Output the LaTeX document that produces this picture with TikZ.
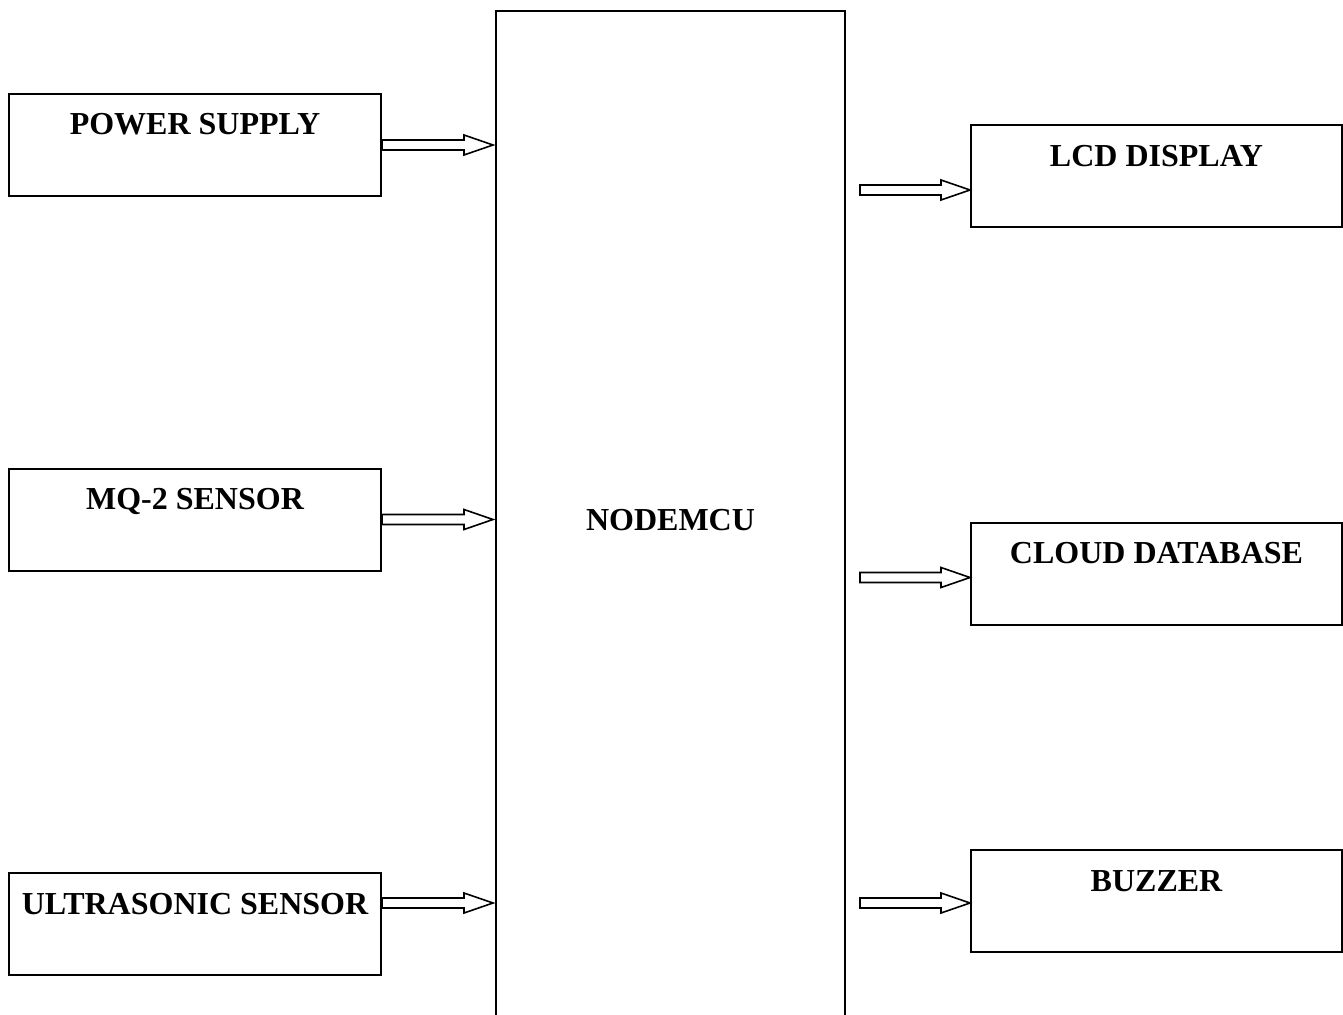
\documentclass[tikz,border=0pt]{standalone}
\usepackage{fontspec}
\setmainfont{Liberation Serif}
\usepackage{tikz}
\usetikzlibrary{calc,positioning}
\tikzset{
  box/.style={draw,line width=2pt,minimum width=372pt,inner ysep=0pt,text height=41pt,text depth=61pt,font=\fontsize{32}{36}\selectfont\bfseries},
  mcu/.style={draw,line width=2pt,minimum width=349pt,minimum height=1018pt,font=\fontsize{32}{36}\selectfont\bfseries},
  hollow/.style={draw,line width=1.6pt,fill=white,line join=miter}
}
% hollow block arrow between two points on one level
\newcommand\hollowarrow[2]{%
  \path[hollow] let \p1=(#1), \p2=(#2) in
    (\x1,\y1+5pt) -- (\x2-29pt,\y1+5pt) -- (\x2-29pt,\y1+10pt) -- (\x2,\y1)
    -- (\x2-29pt,\y1-10pt) -- (\x2-29pt,\y1-5pt) -- (\x1,\y1-5pt) -- cycle;}

\begin{document}
\begin{tikzpicture}[x=1pt,y=-1pt]
  \useasboundingbox (0,0) rectangle (1343,1014);
  \node[mcu] (node) at (670.5,520) {NODEMCU};
  \node[box] (power) at (195,145) {POWER SUPPLY};
  \node[box] (mq) at (195,519.5) {MQ-2 SENSOR};
  \node[box] (ultra) at (195,924) {ULTRASONIC SENSOR};
  \node[box,minimum width=371pt] (lcd) at (1156.5,176) {LCD DISPLAY};
  \node[box,minimum width=371pt] (cloud) at (1156.5,573.5) {CLOUD DATABASE};
  \node[box,minimum width=371pt] (buzzer) at (1156.5,901) {BUZZER};
  \coordinate (ultraout) at ([yshift=21pt]ultra.east);
  \coordinate (lcdin) at ([yshift=-14pt]lcd.west);
  \coordinate (cloudin) at ([yshift=-4pt]cloud.west);
  \coordinate (buzzerin) at ([yshift=-2pt]buzzer.west);
  \hollowarrow{power.east}{$(power.east -| node.west)+(-2,0)$}
  \hollowarrow{mq.east}{$(mq.east -| node.west)+(-2,0)$}
  \hollowarrow{ultraout}{$(ultraout -| node.west)+(-2,0)$}
  \hollowarrow{$(node.east |- lcdin)+(14,0)$}{lcdin}
  \hollowarrow{$(node.east |- cloudin)+(14,0)$}{cloudin}
  \hollowarrow{$(node.east |- buzzerin)+(14,0)$}{buzzerin}
\end{tikzpicture}
\end{document}
